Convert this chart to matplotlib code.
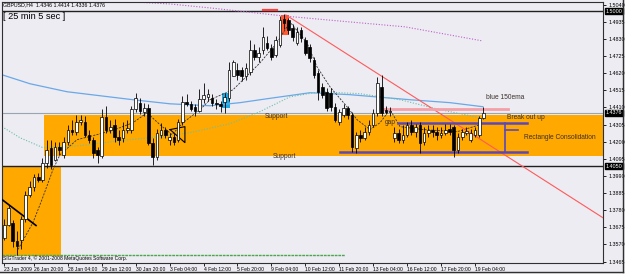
import matplotlib.pyplot as plt
from matplotlib.patches import Rectangle

# GBPUSD H4 candles, bar index 0 = 23 Jan 2009 16:00
opens = [1.3612, 1.3692, 1.3700, 1.3588, 1.3600, 1.3723, 1.3875, 1.3924, 1.3986, 1.3967,
         1.4071, 1.4163, 1.4090, 1.4169, 1.4120, 1.4200, 1.4274, 1.4261, 1.4322, 1.4322,
         1.4243, 1.4212, 1.4151, 1.4110, 1.4353, 1.4274, 1.4304, 1.4230, 1.4224, 1.4274,
         1.4270, 1.4400, 1.4440, 1.4380, 1.4408, 1.4194, 1.4108, 1.4243, 1.4274, 1.4212,
         1.4230, 1.4212, 1.4322, 1.4445, 1.4430, 1.4410, 1.4390, 1.4460, 1.4475, 1.4469,
         1.4439, 1.4430, 1.4445, 1.4469, 1.4600, 1.4640, 1.4640, 1.4600, 1.4628, 1.4763,
         1.4720, 1.4763, 1.4806, 1.4775, 1.4732, 1.4793, 1.4950, 1.4946, 1.4897, 1.4806,
         1.4885, 1.4824, 1.4780, 1.4702, 1.4622, 1.4536, 1.4506, 1.4500, 1.4414, 1.4322,
         1.4365, 1.4408, 1.4365, 1.4163, 1.4243, 1.4224, 1.4261, 1.4304, 1.4377, 1.4536,
         1.4396, 1.4384, 1.4224, 1.4255, 1.4212, 1.4243, 1.4304, 1.4261, 1.4304, 1.4200,
         1.4255, 1.4270, 1.4261, 1.4243, 1.4255, 1.4280, 1.4292, 1.4151, 1.4230, 1.4255,
         1.4212, 1.4243, 1.4243, 1.4346]
highs = [1.3723, 1.3814, 1.3720, 1.3650, 1.3745, 1.3900, 1.3960, 1.4000, 1.4010, 1.4100,
         1.4212, 1.4212, 1.4200, 1.4200, 1.4230, 1.4300, 1.4330, 1.4365, 1.4365, 1.4360,
         1.4270, 1.4230, 1.4170, 1.4400, 1.4420, 1.4330, 1.4340, 1.4270, 1.4320, 1.4330,
         1.4420, 1.4500, 1.4470, 1.4440, 1.4430, 1.4220, 1.4280, 1.4316, 1.4290, 1.4250,
         1.4250, 1.4340, 1.4480, 1.4490, 1.4450, 1.4430, 1.4520, 1.4560, 1.4520, 1.4490,
         1.4460, 1.4450, 1.4500, 1.4689, 1.4700, 1.4680, 1.4660, 1.4680, 1.4824, 1.4800,
         1.4780, 1.4900, 1.4850, 1.4800, 1.4850, 1.4970, 1.4985, 1.4960, 1.4920, 1.4900,
         1.4900, 1.4840, 1.4800, 1.4720, 1.4640, 1.4560, 1.4530, 1.4530, 1.4440, 1.4400,
         1.4430, 1.4420, 1.4380, 1.4260, 1.4270, 1.4290, 1.4330, 1.4400, 1.4598, 1.4610,
         1.4420, 1.4410, 1.4290, 1.4280, 1.4300, 1.4320, 1.4330, 1.4310, 1.4320, 1.4290,
         1.4300, 1.4300, 1.4290, 1.4290, 1.4310, 1.4310, 1.4300, 1.4250, 1.4280, 1.4290,
         1.4280, 1.4290, 1.4360, 1.4414]
lows = [1.3600, 1.3680, 1.3557, 1.3505, 1.3540, 1.3710, 1.3860, 1.3900, 1.3950, 1.3950,
        1.4040, 1.4030, 1.4080, 1.4120, 1.4100, 1.4180, 1.4240, 1.4240, 1.4300, 1.4230,
        1.4190, 1.4102, 1.4071, 1.4100, 1.4250, 1.4250, 1.4200, 1.4180, 1.4200, 1.4250,
        1.4250, 1.4380, 1.4370, 1.4360, 1.4180, 1.4055, 1.4090, 1.4220, 1.4220, 1.4180,
        1.4180, 1.4200, 1.4300, 1.4420, 1.4390, 1.4360, 1.4380, 1.4440, 1.4450, 1.4420,
        1.4400, 1.4380, 1.4377, 1.4450, 1.4600, 1.4580, 1.4570, 1.4580, 1.4610, 1.4700,
        1.4690, 1.4740, 1.4760, 1.4700, 1.4720, 1.4780, 1.4890, 1.4860, 1.4820, 1.4790,
        1.4810, 1.4730, 1.4690, 1.4590, 1.4457, 1.4470, 1.4390, 1.4390, 1.4320, 1.4300,
        1.4350, 1.4340, 1.4139, 1.4130, 1.4200, 1.4210, 1.4240, 1.4290, 1.4360, 1.4360,
        1.4370, 1.4360, 1.4200, 1.4190, 1.4190, 1.4230, 1.4240, 1.4230, 1.4133, 1.4180,
        1.4230, 1.4230, 1.4210, 1.4220, 1.4240, 1.4240, 1.4108, 1.4130, 1.4210, 1.4240,
        1.4200, 1.4230, 1.4230, 1.4336]
closes = [1.3692, 1.3796, 1.3588, 1.3560, 1.3723, 1.3875, 1.3924, 1.3986, 1.3967, 1.4071,
          1.4151, 1.4059, 1.4169, 1.4151, 1.4200, 1.4274, 1.4261, 1.4322, 1.4330, 1.4243,
          1.4212, 1.4133, 1.4120, 1.4353, 1.4274, 1.4292, 1.4230, 1.4212, 1.4274, 1.4286,
          1.4400, 1.4469, 1.4390, 1.4408, 1.4194, 1.4108, 1.4255, 1.4274, 1.4243, 1.4230,
          1.4200, 1.4322, 1.4445, 1.4430, 1.4400, 1.4390, 1.4460, 1.4488, 1.4490, 1.4439,
          1.4430, 1.4420, 1.4475, 1.4640, 1.4689, 1.4610, 1.4600, 1.4650, 1.4763, 1.4720,
          1.4744, 1.4842, 1.4775, 1.4720, 1.4824, 1.4946, 1.4928, 1.4885, 1.4842, 1.4870,
          1.4836, 1.4744, 1.4710, 1.4610, 1.4506, 1.4488, 1.4408, 1.4410, 1.4335, 1.4384,
          1.4408, 1.4365, 1.4169, 1.4243, 1.4224, 1.4261, 1.4304, 1.4377, 1.4561, 1.4377,
          1.4384, 1.4390, 1.4255, 1.4212, 1.4243, 1.4304, 1.4261, 1.4292, 1.4194, 1.4255,
          1.4270, 1.4261, 1.4240, 1.4255, 1.4270, 1.4261, 1.4151, 1.4230, 1.4261, 1.4267,
          1.4255, 1.4270, 1.4346, 1.4376]

# indicator lines (bar index, price)
ema150_x = [-0.54, 6.06, 14.79, 30.35, 39.08, 48.51, 55.59, 61.96, 72.10, 81.53, 95.68, 105.12, 112.9]
ema150_y = [1.4610, 1.4555, 1.4506, 1.4457, 1.4432, 1.4420, 1.4439, 1.4463, 1.4500, 1.4488, 1.4457, 1.4439, 1.4414]
ma_slow_x = [-0.54, 3.7, 9.13, 17.85, 27.29, 36.72, 43.8, 53.23, 60.3, 67.38, 74.46, 83.89, 93.33, 102.76, 112.2]
ma_slow_y = [1.4292, 1.4224, 1.4163, 1.4175, 1.4206, 1.4230, 1.4255, 1.4310, 1.4384, 1.4475, 1.4506, 1.4494, 1.4457, 1.4396, 1.4347]
ma_long_x = [29.6, 39.1, 48.5, 65.7, 81.5, 94.5, 112.7]
ma_long_y = [1.5058, 1.5044, 1.5020, 1.4971, 1.4934, 1.4904, 1.4818]
ma_fast_x = [3.23, 6.77, 8.89, 11.49, 13.14, 17.15, 21.86, 26.11, 30.35, 33.66, 36.72, 39.55, 42.15,
             46.16, 48.51, 53.94, 56.3, 60.3, 64.3, 67.38, 71.39, 73.75, 76.82, 80.83, 83.18,
             86.25, 88.61, 90.97, 93.33, 98.75, 106.77, 112.2]
ma_fast_y = [1.3539, 1.3704, 1.3845, 1.4029, 1.4120, 1.4212, 1.4243, 1.4274, 1.4316, 1.4377, 1.4304,
             1.4243, 1.4316, 1.4396, 1.4457, 1.4518, 1.4579, 1.4683, 1.4806, 1.4934, 1.4806, 1.4659,
             1.4536, 1.4414, 1.4335, 1.4274, 1.4316, 1.4396, 1.4292, 1.4274, 1.4261, 1.4304]

tick_idx = [0, 7, 15, 23, 31, 39, 47, 55, 63, 71, 79, 87, 95, 103, 111]
tick_labels = ["23 Jan 2009", "26 Jan 20:00", "28 Jan 04:00", "29 Jan 12:00", "30 Jan 20:00",
               "3 Feb 04:00", "4 Feb 12:00", "5 Feb 20:00", "9 Feb 04:00", "10 Feb 12:00",
               "11 Feb 20:00", "13 Feb 04:00", "16 Feb 12:00", "17 Feb 20:00", "19 Feb 04:00"]
price_ticks = [1.5040, 1.4935, 1.4830, 1.4725, 1.4620, 1.4515, 1.4410, 1.4305, 1.4200,
               1.4095, 1.3990, 1.3885, 1.3780, 1.3675, 1.3570, 1.3465]
boxed_prices = [1.5000, 1.4376, 1.4050]

bg = '#ECECF2'
orange = '#FFA800'
plt.rcParams['font.family'] = ['Liberation Sans', 'DejaVu Sans']

fig = plt.figure(figsize=(6.25, 2.74), dpi=100, facecolor=bg)
ax = fig.add_axes([1.7 / 625, 1 - 263 / 274, 601.6 / 625, 261.3 / 274])
ax.set_facecolor(bg)
ax.set_xlim(-0.61, 141.27)
ax.set_ylim(1.3456, 1.5058)

# zones
ax.add_patch(Rectangle((9.36, 1.4112), 140, 1.4361 - 1.4112, color=orange, lw=0, zorder=1))
ax.add_patch(Rectangle((-1, 1.3500), 14.37, 1.4050 - 1.3500, color=orange, lw=0, zorder=1))

# horizontal levels
ax.axhline(1.5000, color='#202020', lw=1.0, zorder=2)
ax.axhline(1.4050, color='#202020', lw=1.0, zorder=2)
ax.axhline(1.4376, color='#98A6B4', lw=0.8, zorder=2)
ax.plot([-0.6, 80.3], [1.3502, 1.3502], color='#4CA64C', lw=1.0, ls=(0, (2, 0.6)), zorder=2)

# highlight boxes
ax.add_patch(Rectangle((65.2, 1.4855), 2.0, 0.0124, color='#FF5A30', lw=0, zorder=2))
ax.add_patch(Rectangle((51.3, 1.4408), 1.9, 0.0092, color='#1EA8E0', lw=0, zorder=2))
ax.plot([61.0, 64.3], [1.5008, 1.5008], color='#FF4040', lw=1.6, zorder=3)

# moving averages
ax.plot(ema150_x, ema150_y, color='#6AA8E8', lw=0.9, zorder=2)
ax.plot(ma_slow_x, ma_slow_y, color='#6CC0A8', lw=0.8, ls=(0, (1, 1.5)), zorder=2)
ax.plot(ma_long_x, ma_long_y, color='#C060C8', lw=0.8, ls=(0, (1, 1.5)), zorder=2)
ax.plot(ma_fast_x, ma_fast_y, color='#303030', lw=0.6, ls=(0, (2.5, 1.5)), zorder=2)

# drawn objects
ax.plot([66.4, 141.27], [1.4977, 1.3732], color='#FF5A5A', lw=0.8, zorder=3)
ax.plot([89.3, 118.8], [1.4399, 1.4399], color='#F4A0A8', lw=2.0, zorder=3)
ax.plot([92.9, 123.3], [1.4313, 1.4313], color='#5A48B8', lw=1.8, zorder=3)
ax.plot([79.2, 123.3], [1.4136, 1.4136], color='#5A48B8', lw=1.8, zorder=3)
ax.plot([118.1, 118.1], [1.4313, 1.4136], color='#5A48B8', lw=1.2, zorder=3)
ax.plot([118.1, 121.1], [1.4272, 1.4272], color='#5A48B8', lw=1.2, zorder=3)
ax.plot([-0.54, 7.48], [1.3845, 1.3686], color='black', lw=1.2, zorder=5)
ax.plot([39.1, 42.6, 42.6, 39.1], [1.4274, 1.4292, 1.4194, 1.4274], color='black', lw=0.8, zorder=5)

# candles
for i in range(len(opens)):
    o, h, l, c = opens[i], highs[i], lows[i], closes[i]
    ax.vlines(i, l, h, color='black', lw=0.6, zorder=4)
    fill = 'white' if c >= o else 'black'
    ax.bar(i, max(abs(c - o), 0.0003), bottom=min(o, c), width=0.62,
           color=fill, edgecolor='black', lw=0.5, zorder=5)

# labels on chart
txt = dict(fontsize=4.8, color='#3C3028', va='center', ha='left', zorder=6)
ax.text(61.5, 1.4353, 'Support', **txt)
ax.text(63.4, 1.4108, 'Support', **txt)
ax.text(89.8, 1.4318, 'gap', **txt)
ax.text(113.6, 1.4469, 'blue 150ema', **txt)
ax.text(118.6, 1.4347, 'Break out up', **txt)
ax.text(122.6, 1.4225, 'Rectangle Consolidation', **txt)

fig.text(3 / 625, 1 - 5 / 274, 'GBPUSD,H4  1.4346 1.4414 1.4336 1.4376', fontsize=3.8,
         va='center', ha='left', color='black')
fig.text(3 / 625, 1 - 16.5 / 274, '[ 25 min 5 sec ]', fontsize=6.6, va='center', ha='left',
         color='black')
fig.text(3 / 625, 1 - 258.5 / 274, 'SIGTrader 4, \u00a9 2001-2008 MetaQuotes Software Corp.',
         fontsize=3.6, va='center', ha='left', color='black')

# axes styling
for s in ax.spines.values():
    s.set_color('#303030')
    s.set_linewidth(0.8)
ax.yaxis.tick_right()
ax.set_yticks(price_ticks)
ax.set_yticklabels(['%.4f' % p for p in price_ticks])
ax.tick_params(axis='y', labelsize=3.9, length=2, width=0.6, pad=1.5, colors='black')
ax.set_xticks(tick_idx)
ax.set_xticklabels(tick_labels, ha='left')
ax.tick_params(axis='x', labelsize=3.6, length=2, width=0.6, pad=1.0, colors='black')

for p in boxed_prices:
    ax.text(1.004, p, '%.4f' % p, transform=ax.get_yaxis_transform(), fontsize=3.9,
            color='white', va='center', ha='left',
            bbox=dict(boxstyle='square,pad=0.15', fc='black', ec='black'))

# outer frame of the window
fig.add_artist(plt.Line2D([0, 623 / 625], [1 - 271.7 / 274] * 2, color='#303030', lw=1.0))
fig.add_artist(plt.Line2D([623 / 625] * 2, [1 - 271.7 / 274, 1], color='#303030', lw=1.0))

fig.savefig('out.png', dpi=100, facecolor=bg)
